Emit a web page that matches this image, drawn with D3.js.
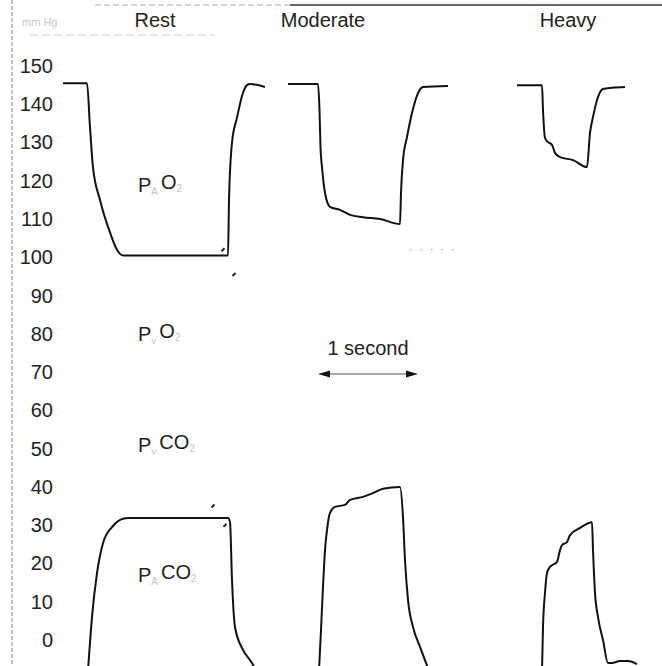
<!DOCTYPE html>
<meta charset="utf-8">
<style>
  body {margin: 0; background: #fff;}
  svg {display: block; font-family: "Liberation Sans", Arial, sans-serif;}
</style>
<svg width="662" height="666"></svg>
<script src="https://cdn.jsdelivr.net/npm/d3@7/dist/d3.min.js"></script>
<script>
  /**
   * ----------------------------------------------------------------------------------------------
   * data  (time in seconds, pressure in mm Hg)
   * ----------------------------------------------------------------------------------------------
   */
  const pressureTicks = d3.range(0, 151, 10);
  const exerciseLevels = ["Rest", "Moderate", "Heavy"];

  const restO2 = [[0, 145.5], [0.24, 145.5], [0.27, 134], [0.30, 123.5], [0.37, 115], [0.47, 106.5],
    [0.54, 102], [0.60, 100.5], [1.65, 100.5], [1.66, 115], [1.69, 130], [1.74, 136.5], [1.80, 143],
    [1.84, 145], [1.87, 145.3], [2.02, 144.5]];
  const moderateO2 = [[2.25, 145.3], [2.55, 145.3], [2.565, 138.5], [2.575, 128.8], [2.59, 123.6],
    [2.62, 116.8], [2.67, 113.2], [2.77, 112.4], [2.87, 111.1], [3.00, 110.5], [3.17, 110],
    [3.37, 108.7], [3.38, 116.8], [3.40, 125.4], [3.44, 131.4], [3.49, 137.7], [3.55, 142.9],
    [3.60, 144.5], [3.85, 144.8]];
  const heavyO2 = [[4.54, 145], [4.79, 145], [4.80, 138.5], [4.82, 131.2], [4.85, 130.1], [4.89, 129.4],
    [4.92, 127.3], [4.97, 126.2], [5.10, 125.4], [5.24, 123.6], [5.27, 132.5], [5.30, 136.7],
    [5.35, 141.9], [5.40, 144], [5.49, 144.3], [5.62, 144.5]];

  const restCO2 = [[0.25, -8], [0.29, 6], [0.34, 17.5], [0.40, 25.3], [0.49, 29.5], [0.57, 31.4],
    [0.65, 31.9], [1.65, 31.9], [1.67, 30.8], [1.69, 15.7], [1.72, 3.4], [1.80, -2.6], [1.89, -6],
    [1.93, -8]];
  const moderateCO2 = [[2.56, -8], [2.58, 2.6], [2.60, 13.9], [2.62, 23.5], [2.64, 28.7], [2.67, 33.2],
    [2.72, 34.8], [2.82, 35.3], [2.87, 36.6], [3.00, 37.4], [3.10, 38.4], [3.20, 39.5], [3.37, 40],
    [3.40, 32.1], [3.42, 20.9], [3.45, 10.5], [3.50, 3.4], [3.57, -1.8], [3.66, -8]];
  const heavyCO2 = [[4.79, -8], [4.80, 3.4], [4.82, 12.3], [4.84, 17.5], [4.87, 19.1], [4.94, 20.4],
    [4.97, 23.5], [4.99, 24.8], [5.04, 25.6], [5.07, 27.4], [5.17, 29.3], [5.29, 30.8], [5.30, 23.5],
    [5.32, 12.3], [5.35, 6], [5.40, 0], [5.45, -6], [5.49, -6], [5.57, -5.5], [5.65, -5.5], [5.74, -6.3]];

  // curve names: [P, subscript, gas, subscript] and the pressure they sit at
  const curveLabels = [["P", "A", "O", "2"], ["P", "v", "O", "2"], ["P", "v", "CO", "2"], ["P", "A", "CO", "2"]];
  const curveLabelLevels = [119, 80, 51, 17];
  const timeBar = [2.55, 3.55];
  // little specks left on the scan
  const specks = [[1.60, 102], [1.71, 95.5], [1.50, 35], [1.62, 30]];

  /**
   *-----------------------------------------------------------------------------------------------
   * definitions
   *-----------------------------------------------------------------------------------------------
   **/
  var width = 662, height = 666;
  var svg = d3.select("svg");

  var x = d3.scaleLinear().domain([0, 6]).range([63, 663]);
  var y = d3.scaleLinear().domain([0, 150]).range([640, 66]);

  var line = d3.line()
    .curve(d3.curveMonotoneX)
    .x(function(d) { return x(d[0]); })
    .y(function(d) { return y(d[1]); });

  /**------------------------------------------------------------------------
   * frame (scanned page edges)
   **----------------------------------------------------------------------**/
  svg.append("line")
    .attr("x1", 12).attr("x2", 12).attr("y1", 0).attr("y2", height)
    .style("stroke", "#888").style("stroke-dasharray", "4,2");
  svg.append("line")
    .attr("x1", 95).attr("x2", 290).attr("y1", 5).attr("y2", 5)
    .style("stroke", "#aaa").style("stroke-dasharray", "6,3");
  svg.append("line")
    .attr("x1", 290).attr("x2", width).attr("y1", 5).attr("y2", 5)
    .style("stroke", "#333").style("stroke-width", 1.5);
  svg.append("line")
    .attr("x1", 30).attr("x2", 215).attr("y1", 35).attr("y2", 35)
    .style("stroke", "#ccc").style("stroke-dasharray", "8,4");
  svg.append("text")
    .attr("x", 22).attr("y", 26)
    .style("font-size", "11px").style("fill", "#c8c8c8")
    .text("mm Hg");

  /**------------------------------------------------------------------------
   * pressure axis
   **----------------------------------------------------------------------**/
  var axis = svg.append("g")
    .attr("transform", "translate(53,0)")
    .call(d3.axisLeft(y).tickValues(pressureTicks).tickSize(0).tickPadding(0));
  axis.select(".domain").remove();
  axis.selectAll("text")
    .style("font-size", "20px")
    .style("font-family", "\"Liberation Sans\", Arial, sans-serif")
    .style("fill", "#222");

  /**------------------------------------------------------------------------
   * column headers
   **----------------------------------------------------------------------**/
  var headerX = [155, 323, 568];
  svg.append("g").selectAll("text")
    .data(exerciseLevels)
    .enter().append("text")
      .attr("x", function(d, i) { return headerX[i]; })
      .attr("y", 27)
      .attr("text-anchor", "middle")
      .style("font-size", "20px")
      .style("fill", "#222")
      .text(function(d) { return d; });

  /**------------------------------------------------------------------------
   * traces
   **----------------------------------------------------------------------**/
  var traces = [restO2, moderateO2, heavyO2, restCO2, moderateCO2, heavyCO2];
  svg.append("g")
    .style("fill", "none").style("stroke", "#111")
    .style("stroke-width", 2).style("stroke-linejoin", "round")
    .selectAll("path")
    .data(traces)
    .enter().append("path")
      .attr("d", line);

  // dotted smudge next to the moderate trough
  svg.append("line")
    .attr("x1", x(3.47)).attr("x2", x(3.95)).attr("y1", y(102)).attr("y2", y(102))
    .style("stroke", "#999").style("stroke-dasharray", "1.5,9");

  svg.append("g").selectAll("line")
    .data(specks)
    .enter().append("line")
      .attr("x1", function(d) { return x(d[0]) - 1.5; })
      .attr("x2", function(d) { return x(d[0]) + 1.5; })
      .attr("y1", function(d) { return y(d[1]) + 1.5; })
      .attr("y2", function(d) { return y(d[1]) - 1.5; })
      .style("stroke", "#222").style("stroke-width", 2);

  /**------------------------------------------------------------------------
   * curve labels
   **----------------------------------------------------------------------**/
  var lab = svg.append("g").selectAll("text")
    .data(curveLabels)
    .enter().append("text")
      .attr("x", 138)
      .attr("y", function(d, i) { return y(curveLabelLevels[i]); })
      .attr("dy", "0.35em")
      .style("font-size", "20px")
      .style("fill", "#222");
  lab.append("tspan").text(function(d) { return d[0]; });
  lab.append("tspan").attr("dy", "0.3em").style("font-size", "10px").style("fill", "#c4c4c4")
    .text(function(d) { return d[1]; });
  lab.append("tspan").attr("dy", "-0.3em").attr("dx", "3").text(function(d) { return d[2]; });
  lab.append("tspan").attr("dy", "0.3em").style("font-size", "10px").style("fill", "#c4c4c4")
    .text(function(d) { return d[3]; });

  /**------------------------------------------------------------------------
   * 1 second scale bar
   **----------------------------------------------------------------------**/
  var barY = 374;
  svg.append("text")
    .attr("x", x(d3.mean(timeBar))).attr("y", 355)
    .attr("text-anchor", "middle")
    .style("font-size", "20px").style("fill", "#222")
    .text("1 second");
  svg.append("line")
    .attr("x1", x(timeBar[0]) + 8).attr("x2", x(timeBar[1]) - 8)
    .attr("y1", barY).attr("y2", barY)
    .style("stroke", "#555").style("stroke-width", 1.2);
  svg.append("g").selectAll("path")
    .data(timeBar)
    .enter().append("path")
      .attr("d", function(d, i) {
        var tip = x(d), s = i === 0 ? 1 : -1;
        return "M" + tip + "," + barY + "L" + (tip + 12 * s) + "," + (barY - 3.5) +
               "L" + (tip + 12 * s) + "," + (barY + 3.5) + "Z";
      })
      .style("fill", "#111");
</script>
